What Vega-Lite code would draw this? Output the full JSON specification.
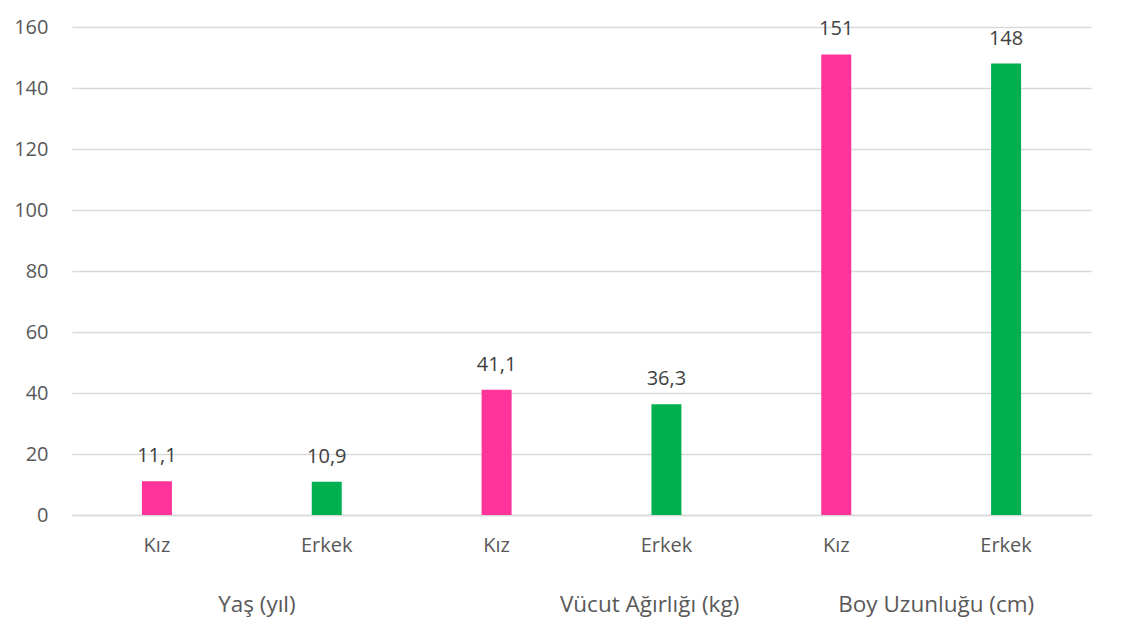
{
  "$schema": "https://vega.github.io/schema/vega-lite/v6.json",
  "width": 1019,
  "height": 488,
  "autosize": {"type": "none"},
  "padding": {"left": 72, "top": 27, "right": 41, "bottom": 121},
  "background": "white",
  "config": {
    "view": {"stroke": null},
    "font": "Open Sans",
    "locale": {"number": {"decimal": ",", "thousands": ".", "grouping": [3], "currency": ["", " TL"]}}
  },
  "data": {
    "values": [
      {"grup": "Yaş (yıl)", "cinsiyet": "Kız", "deger": 11.1, "key": "Yaş (yıl)|Kız"},
      {"grup": "Yaş (yıl)", "cinsiyet": "Erkek", "deger": 10.9, "key": "Yaş (yıl)|Erkek"},
      {"grup": "Vücut Ağırlığı (kg)", "cinsiyet": "Kız", "deger": 41.1, "key": "Vücut Ağırlığı (kg)|Kız"},
      {"grup": "Vücut Ağırlığı (kg)", "cinsiyet": "Erkek", "deger": 36.3, "key": "Vücut Ağırlığı (kg)|Erkek"},
      {"grup": "Boy Uzunluğu (cm)", "cinsiyet": "Kız", "deger": 151, "key": "Boy Uzunluğu (cm)|Kız"},
      {"grup": "Boy Uzunluğu (cm)", "cinsiyet": "Erkek", "deger": 148, "key": "Boy Uzunluğu (cm)|Erkek"}
    ]
  },
  "encoding": {
    "x": {
      "field": "key",
      "type": "nominal",
      "sort": null,
      "scale": {"paddingInner": 0, "paddingOuter": 0},
      "axis": {
        "title": null,
        "labelAngle": 0,
        "labelExpr": "split(datum.label, '|')[1]",
        "labelFontSize": 20,
        "labelColor": "#595959",
        "labelPadding": 20,
        "ticks": false,
        "domainColor": "#D9D9D9",
        "domainWidth": 1.5,
        "grid": false
      }
    },
    "y": {
      "type": "quantitative",
      "scale": {"domain": [0, 160], "nice": false},
      "axis": {
        "title": null,
        "values": [0, 20, 40, 60, 80, 100, 120, 140, 160],
        "labelFontSize": 20,
        "labelColor": "#595959",
        "labelPadding": 24,
        "ticks": false,
        "domain": false,
        "gridColor": "#D9D9D9",
        "gridWidth": 1.5
      }
    }
  },
  "layer": [
    {
      "mark": {"type": "bar", "width": 30},
      "encoding": {
        "y": {"field": "deger", "type": "quantitative"},
        "color": {
          "field": "cinsiyet",
          "type": "nominal",
          "scale": {"domain": ["Kız", "Erkek"], "range": ["#FF3399", "#00B050"]},
          "legend": null
        }
      }
    },
    {
      "mark": {"type": "text", "baseline": "alphabetic", "dy": -19, "fontSize": 20, "color": "#404040"},
      "encoding": {
        "y": {"field": "deger", "type": "quantitative"},
        "text": {"field": "deger", "type": "quantitative", "format": "~g"}
      }
    },
    {
      "transform": [{"filter": "datum.cinsiyet == 'Kız' && datum.grup != 'Vücut Ağırlığı (kg)'"}],
      "mark": {"type": "text", "baseline": "middle", "dx": 100, "dy": 90, "fontSize": 22.5, "color": "#595959"},
      "encoding": {
        "y": {"datum": 0},
        "text": {"field": "grup"}
      }
    },
    {
      "transform": [{"filter": "datum.cinsiyet == 'Kız' && datum.grup == 'Vücut Ağırlığı (kg)'"}],
      "mark": {"type": "text", "baseline": "middle", "dx": 153, "dy": 90, "fontSize": 22.5, "color": "#595959"},
      "encoding": {
        "y": {"datum": 0},
        "text": {"field": "grup"}
      }
    }
  ]
}
